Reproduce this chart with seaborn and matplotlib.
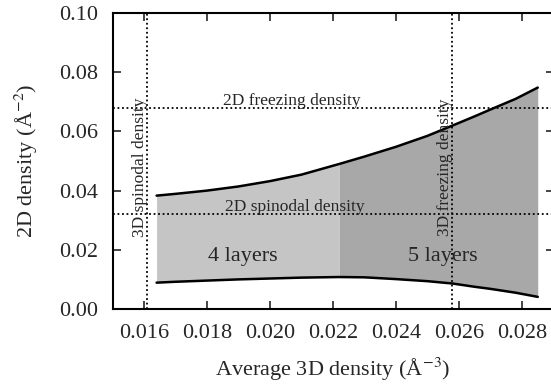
import matplotlib
matplotlib.use("Agg")
import matplotlib.pyplot as plt
import seaborn as sns
import numpy as np
import pandas as pd

# Data
x_avg3d = [0.0164, 0.0170, 0.0180, 0.0190, 0.0200, 0.0210, 0.0222, 0.0230,
           0.0240, 0.0250, 0.0258, 0.0265, 0.0270, 0.0278, 0.0285]
upper_2d = [0.0383, 0.0389, 0.0400, 0.0414, 0.0432, 0.0454, 0.0490, 0.0515,
            0.0548, 0.0585, 0.0620, 0.0651, 0.0674, 0.0710, 0.0748]
lower_2d = [0.0089, 0.0092, 0.0096, 0.0100, 0.0103, 0.0106, 0.0108, 0.0107,
            0.0101, 0.0094, 0.0086, 0.0075, 0.0068, 0.0055, 0.0041]
layer_boundary = 0.0222
spinodal_3d = 0.0161
freezing_3d = 0.02578
freezing_2d = 0.0679
spinodal_2d = 0.0321
x_ticks = [0.016, 0.018, 0.020, 0.022, 0.024, 0.026, 0.028]
y_ticks = [0.00, 0.02, 0.04, 0.06, 0.08, 0.10]

sns.set_style("ticks")
plt.rcParams['font.family'] = ['Liberation Serif', 'DejaVu Serif']
plt.rcParams['mathtext.fontset'] = 'stix'

fig = plt.figure(figsize=(5.51, 3.86), dpi=100)
ax = fig.add_axes([112.5 / 551, 77 / 386, 441 / 551, 296 / 386])

df = pd.DataFrame({"x": x_avg3d, "upper": upper_2d, "lower": lower_2d})
xa = np.array(x_avg3d)
ua = np.array(upper_2d)
la = np.array(lower_2d)
m4 = xa <= layer_boundary + 1e-9
m5 = xa >= layer_boundary - 1e-9
ax.fill_between(xa[m4], la[m4], ua[m4], color="#c5c5c5", linewidth=0, zorder=1)
ax.fill_between(xa[m5], la[m5], ua[m5], color="#a8a8a8", linewidth=0, zorder=1)

sns.lineplot(data=df, x="x", y="upper", color="black", linewidth=1.8, ax=ax, zorder=3)
sns.lineplot(data=df, x="x", y="lower", color="black", linewidth=1.8, ax=ax, zorder=3)

dot = dict(color="black", linestyle=(0, (1, 1.5)), linewidth=1.3, zorder=2)
ax.axvline(spinodal_3d, **dot)
ax.axvline(freezing_3d, **dot)
ax.axhline(freezing_2d, **dot)
ax.axhline(spinodal_2d, **dot)

small = 12.5
ax.text(0.0207, freezing_2d + 0.0009, "2D freezing density", ha="center", va="baseline", fontsize=small, zorder=4)
ax.text(0.0208, spinodal_2d + 0.0009, "2D spinodal density", ha="center", va="baseline", fontsize=small, zorder=4)
ax.text(spinodal_3d + 0.00002, 0.0480, "3D spinodal density", rotation=90, ha="right", va="center", fontsize=small, zorder=4)
ax.text(freezing_3d + 0.00002, 0.0480, "3D freezing density", rotation=90, ha="right", va="center", fontsize=small, zorder=4)
ax.text(0.01914, 0.0176, "4 layers", ha="center", va="center", fontsize=16, zorder=4)
ax.text(0.0255, 0.0176, "5 layers", ha="center", va="center", fontsize=16, zorder=4)

ax.set_xlim(0.015, 0.029)
ax.set_ylim(0.0, 0.10)
ax.set_xticks(x_ticks)
ax.set_yticks(y_ticks)
ax.set_xticklabels([f"{t:.3f}" for t in x_ticks])
ax.set_yticklabels([f"{t:.2f}" for t in y_ticks])
ax.tick_params(direction="in", length=6, width=1.2, top=True, right=True, labelsize=16)
ax.tick_params(axis="x", pad=11)
ax.tick_params(axis="y", pad=10)
for s in ax.spines.values():
    s.set_linewidth(1.5)
    s.set_color("black")
ax.set_xlabel(r"Average 3D density (Å$^{-3}$)", fontsize=16, labelpad=9)
ax.set_ylabel(r"2D density (Å$^{-2}$)", fontsize=16, labelpad=14)

fig.savefig("out.png", dpi=100)
